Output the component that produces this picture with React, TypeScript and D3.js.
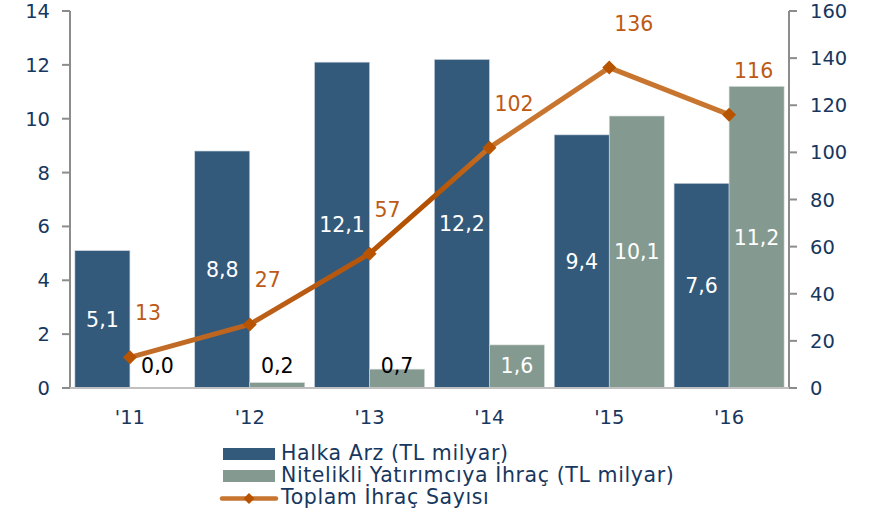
import React from "react";
import * as d3 from "d3";

const years = ["'11", "'12", "'13", "'14", "'15", "'16"];
const halkaArz = [5.1, 8.8, 12.1, 12.2, 9.4, 7.6];
const nitelikli = [0.0, 0.2, 0.7, 1.6, 10.1, 11.2];
const toplam = [13, 27, 57, 102, 136, 116];
const leftTicks = [0, 2, 4, 6, 8, 10, 12, 14];
const rightTicks = [0, 20, 40, 60, 80, 100, 120, 140, 160];
const seriesNames = ["Halka Arz (TL milyar)", "Nitelikli Yatırımcıya İhraç (TL milyar)", "Toplam İhraç Sayısı"];

const W = 872, H = 516;
const C_HALKA = "#345A7B";
const C_NIT = "#849A91";
const C_TEXT = "#17375E";
const C_AXIS = "#8C8C8C";
const C_ORANGE_L = "#C8762F";
const C_ORANGE_D = "#B35000";
const C_LABEL = "#BD5A14";
const FONT = "'DejaVu Sans', Verdana, sans-serif";
const FS = 20.5;
const FT = 19.5;

const fmt = (v: number) => v.toFixed(1).replace(".", ",");

export default function App() {
  const left = 70, right = 789, top = 11, bottom = 388;
  const x = d3.scaleBand<string>().domain(years).range([left, right]).padding(0);
  const xs = d3.scaleBand<string>().domain(["h", "n"]).range([0, x.bandwidth()]).paddingInner(0).paddingOuter(0.089);
  const yL = d3.scaleLinear().domain([0, 14]).range([bottom, top]);
  const yR = d3.scaleLinear().domain([0, 160]).range([bottom, top]);
  const cx = (y: string) => (x(y) as number) + x.bandwidth() / 2;
  const line = d3.line<number>().x((_, i) => cx(years[i])).y((d) => yR(d));
  const bw = xs.bandwidth();
  const y0 = yL(0);
  const diamond = (s: number) => `M0,${-s}L${s},0L0,${s}L${-s},0Z`;

  return (
    <svg width={W} height={H} style={{ position: "absolute", left: 0, top: 0, background: "#fff" }} fontFamily={FONT}>
      <defs>
        <linearGradient id="lg" gradientUnits="userSpaceOnUse" x1={cx(years[0])} x2={cx(years[5])} y1={0} y2={0}>
          <stop offset="0%" stopColor="#C3702C" />
          <stop offset="30%" stopColor="#B95A12" />
          <stop offset="50%" stopColor={C_ORANGE_D} />
          <stop offset="62%" stopColor={C_ORANGE_L} />
          <stop offset="100%" stopColor={C_ORANGE_L} />
        </linearGradient>
      </defs>
      {/* bars */}
      {years.map((yr, i) => (
        <g key={yr}>
          <rect x={(x(yr) as number) + (xs("h") as number)} y={yL(halkaArz[i])} width={bw} height={y0 - yL(halkaArz[i])}
            fill={C_HALKA} stroke="#c9d3de" strokeWidth={0.6} />
          <rect x={(x(yr) as number) + (xs("n") as number)} y={yL(nitelikli[i])} width={bw} height={y0 - yL(nitelikli[i])}
            fill={C_NIT} stroke="#d5dcd8" strokeWidth={0.6} />
        </g>
      ))}
      {/* axes */}
      <line x1={left} x2={left} y1={top} y2={bottom} stroke={C_AXIS} strokeWidth={2} />
      <line x1={right} x2={right} y1={top} y2={bottom} stroke={C_AXIS} strokeWidth={2} />
      <line x1={left} x2={right} y1={bottom} y2={bottom} stroke="#c0c0c0" strokeWidth={2} />
      {leftTicks.map((t) => (
        <g key={"l" + t}>
          <line x1={left - 8} x2={left} y1={yL(t)} y2={yL(t)} stroke={C_AXIS} strokeWidth={2} />
          <text x={50} y={yL(t)} dy="0.36em" textAnchor="end" fontSize={FT} fill={C_TEXT}>{t}</text>
        </g>
      ))}
      {rightTicks.map((t) => (
        <g key={"r" + t}>
          <line x1={right} x2={right + 8} y1={yR(t)} y2={yR(t)} stroke={C_AXIS} strokeWidth={2} />
          <text x={810} y={yR(t)} dy="0.36em" textAnchor="start" fontSize={FT} fill={C_TEXT}>{t}</text>
        </g>
      ))}
      {years.map((yr) => (
        <text key={"x" + yr} x={cx(yr)} y={424} textAnchor="middle" fontSize={FT} fill={C_TEXT}>{yr}</text>
      ))}
      {/* bar labels */}
      {years.map((yr, i) => {
        const hx = (x(yr) as number) + (xs("h") as number) + bw / 2;
        const nx = (x(yr) as number) + (xs("n") as number) + bw / 2;
        const hy = (yL(halkaArz[i]) + y0) / 2;
        const nyMid = (yL(nitelikli[i]) + y0) / 2;
        const small = yL(nitelikli[i]) > y0 - 30;
        const ny = Math.min(nyMid, y0 - 22);
        return (
          <g key={"bl" + yr}>
            <text x={hx} y={hy} dy="0.36em" textAnchor="middle" fontSize={FS} fill="#fff">{fmt(halkaArz[i])}</text>
            <text x={nx} y={ny} dy="0.36em" textAnchor="middle" fontSize={FS}
              fill={small && nitelikli[i] < 1 ? "#000" : "#fff"}>{fmt(nitelikli[i])}</text>
          </g>
        );
      })}
      {/* line */}
      <path d={line(toplam) as string} fill="none" stroke="url(#lg)" strokeWidth={5} strokeLinejoin="round" />
      {toplam.map((v, i) => (
        <path key={"m" + i} d={diamond(7)} transform={`translate(${cx(years[i])},${yR(v)})`} fill="#B85300" />
      ))}
      {toplam.map((v, i) => (
        <text key={"t" + i} x={cx(years[i]) + 5} y={yR(v) - 37} textAnchor="start" fontSize={FS} fill={C_LABEL}>{v}</text>
      ))}
      {/* legend */}
      <rect x={223} y={448} width={52} height={12} fill={C_HALKA} />
      <text x={281} y={459.5} fontSize={FS} letterSpacing={0.6} fill={C_TEXT}>{seriesNames[0]}</text>
      <rect x={223} y={470} width={52} height={12} fill={C_NIT} />
      <text x={281} y={481.5} fontSize={FS} letterSpacing={0.6} fill={C_TEXT}>{seriesNames[1]}</text>
      <line x1={222} x2={276} y1={498.5} y2={498.5} stroke={C_ORANGE_L} strokeWidth={4.5} strokeLinecap="round" />
      <path d={diamond(5.5)} transform="translate(249,498.5)" fill="#B85300" />
      <text x={281} y={503.5} fontSize={FS} letterSpacing={0.6} fill={C_TEXT}>{seriesNames[2]}</text>
    </svg>
  );
}
